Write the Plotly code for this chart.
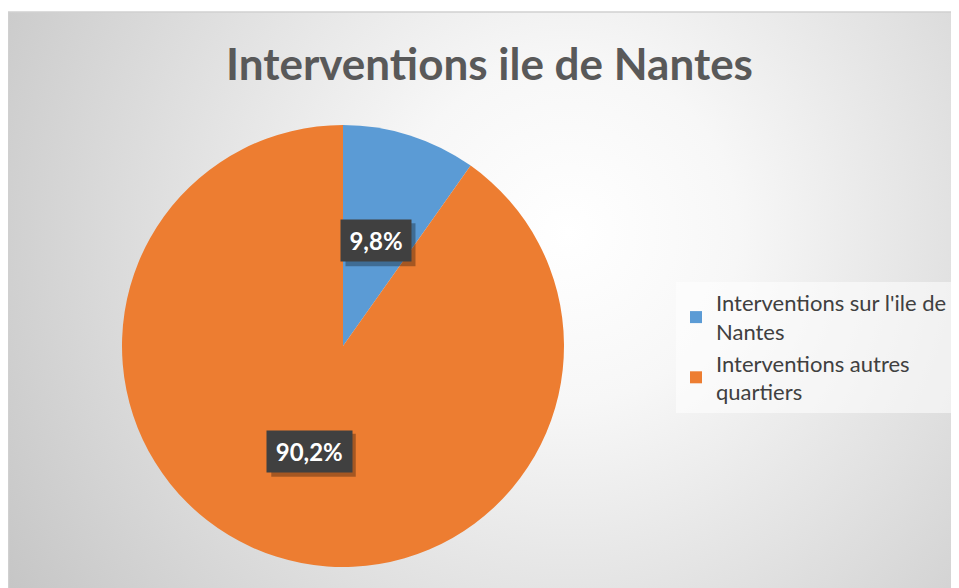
import math
import urllib.parse
import plotly.graph_objects as go

title = "Interventions ile de Nantes"
labels = ["Interventions sur l'ile de<br>Nantes", "Interventions autres<br>quartiers"]
values = [9.8, 90.2]
colors = ["#5B9BD5", "#ED7D31"]

# page body has an 8px margin: the figure is sized to fill the rest of the window
OX, OY = 8, 8
W, H = 951, 580


def px_x(X):
    return (X - OX) / W


def px_y(Y):
    return 1 - (Y - OY) / H


cx, cy, R = 343, 346, 221

dom_x = [px_x(cx - R), px_x(cx + R)]
dom_y = [px_y(cy + R), px_y(cy - R)]

fig = go.Figure()
fig.add_trace(go.Pie(
    labels=labels, values=values, sort=False, direction="clockwise", rotation=0,
    marker=dict(colors=colors, line=dict(color="white", width=0)),
    textinfo="none", hoverinfo="label+percent",
    domain=dict(x=dom_x, y=dom_y),
))

# background radial gradient (chart area from x=8, y=12 to the window edges)
bw, bh = 951, 576
svg = ('<svg xmlns="http://www.w3.org/2000/svg" width="%d" height="%d" viewBox="0 0 %d %d">'
       '<defs><radialGradient id="g" gradientUnits="userSpaceOnUse" cx="560" cy="220" r="680">'
       '<stop offset="0" stop-color="#ffffff"/><stop offset="0.25" stop-color="#f7f7f7"/>'
       '<stop offset="1" stop-color="#c4c4c4"/></radialGradient></defs>'
       '<rect width="%d" height="%d" fill="url(#g)"/></svg>') % (bw, bh, bw, bh, bw, bh)
src = "data:image/svg+xml;utf8," + urllib.parse.quote(svg)
fig.add_layout_image(dict(source=src, xref="paper", yref="paper", x=px_x(8), y=px_y(12),
                          sizex=bw / W, sizey=bh / H, xanchor="left", yanchor="top",
                          sizing="stretch", layer="below"))

shapes = [
    dict(type="line", xref="paper", yref="paper", x0=px_x(8), x1=1, y0=px_y(12), y1=px_y(12),
         line=dict(color="#d0d0d0", width=1.5)),
    dict(type="line", xref="paper", yref="paper", x0=px_x(8.5), x1=px_x(8.5), y0=0, y1=px_y(12),
         line=dict(color="#d0d0d0", width=1.5)),
]

annotations = []
total = sum(values)
start = 0.0
for v in values:
    mid = (start + v / 2) / total * 2 * math.pi
    start += v
    lx = cx + 0.5 * R * math.sin(mid)
    ly = cy - 0.5 * R * math.cos(mid)
    txt = ("%.1f%%" % (v / total * 100)).replace(".", ",")
    bwid = 14.5 * len(txt)
    boxw, boxh = bwid + 12, 43
    # soft shadow behind the label box
    shapes.append(dict(type="rect", xref="paper", yref="paper", layer="above",
                       x0=px_x(lx - boxw / 2 + 4), x1=px_x(lx + boxw / 2 + 4),
                       y0=px_y(ly + boxh / 2 + 4), y1=px_y(ly - boxh / 2 + 4),
                       fillcolor="rgba(0,0,0,0.3)", line=dict(width=0)))
    annotations.append(dict(x=px_x(lx), y=px_y(ly), xref="paper", yref="paper",
                            xanchor="center", yanchor="middle",
                            text="<b>" + txt + "</b>", showarrow=False, width=bwid,
                            font=dict(family="Lato", size=24, color="white"),
                            bgcolor="#404040", borderpad=6))

fig.update_layout(
    width=W, height=H, margin=dict(l=0, r=0, t=0, b=0),
    paper_bgcolor="white", plot_bgcolor="rgba(0,0,0,0)",
    title=dict(text="<b>" + title + "</b>", x=px_x(489.5), xanchor="center", y=px_y(65), yanchor="middle",
               font=dict(family="Lato", size=44, color="#595959")),
    showlegend=True,
    legend=dict(x=px_x(676), y=px_y(282), xanchor="left", yanchor="top",
                bgcolor="rgba(255,255,255,0.55)", font=dict(family="Lato", size=22, color="#404040"),
                itemsizing="constant"),
    shapes=shapes, annotations=annotations,
)
fig.write_html("out.html")
